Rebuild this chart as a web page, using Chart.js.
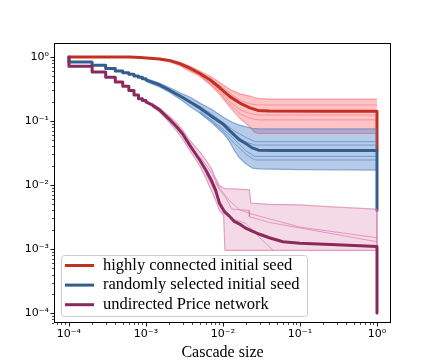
<!DOCTYPE html>
<html><head><meta charset="utf-8">
<script src="https://cdn.jsdelivr.net/npm/chart.js@4/dist/chart.umd.min.js"></script>
<style>html,body{margin:0;padding:0;background:#fff;}</style>
</head><body>
<canvas id="c" width="436" height="363"></canvas>
<script>
// ---------- data ----------
const seriesLabels = ['highly connected initial seed', 'randomly selected initial seed', 'undirected Price network'];
const xTickValues = [1e-4, 1e-3, 1e-2, 1e-1, 1];
const xTickLabels = ['10\u207B\u2074', '10\u207B\u00B3', '10\u207B\u00B2', '10\u207B\u00B9', '10\u2070'];
const yTickValues = [1e-4, 1e-3, 1e-2, 1e-1, 1];
const yTickLabels = ['10\u207B\u2074', '10\u207B\u00B3', '10\u207B\u00B2', '10\u207B\u00B9', '10\u2070'];

// red: highly connected initial seed
const redX = [1e-4, 3e-4, 6e-4, 8.4e-4, 1.5e-3, 2.05e-3, 2.8e-3, 3.7e-3, 5e-3, 6.8e-3, 9.1e-3, 1.23e-2, 1.66e-2, 2.24e-2, 2.85e-2, 4e-2, 0.2, 1.0, 1.0];
const redY = [1.0, 1.0, 0.995, 0.98, 0.93, 0.875, 0.78, 0.67, 0.55, 0.44, 0.33, 0.24, 0.19, 0.16, 0.146, 0.143, 0.142, 0.142, 0.035];
const redBandX = [1.5e-3, 2.05e-3, 2.8e-3, 3.7e-3, 5e-3, 6.8e-3, 9.1e-3, 1.23e-2, 1.66e-2, 2.24e-2, 2.6e-2, 2.85e-2, 4e-2, 1.0];
const redUpper = [0.95, 0.9, 0.82, 0.72, 0.6, 0.5, 0.4, 0.31, 0.265, 0.245, 0.23, 0.225, 0.22, 0.22];
const redLower = [0.9, 0.835, 0.72, 0.6, 0.5, 0.37, 0.26, 0.165, 0.11, 0.08, 0.066, 0.064, 0.064, 0.064];
const redRunX = [5e-3, 9.1e-3, 1.23e-2, 1.66e-2, 2.24e-2, 2.85e-2, 1.0];
const redRun1 = [0.57, 0.36, 0.27, 0.21, 0.185, 0.178, 0.178];
const redRun2 = [0.53, 0.3, 0.2, 0.15, 0.13, 0.124, 0.124];
const redRun3 = [0.52, 0.28, 0.18, 0.13, 0.11, 0.104, 0.104];

// blue: randomly selected initial seed
const blueX = [1e-4, 1e-4, 2e-4, 2e-4, 3e-4, 3e-4, 4e-4, 4e-4, 5e-4, 5e-4, 6e-4, 6e-4, 7e-4, 7e-4, 8e-4, 8e-4, 9e-4, 9e-4, 1e-3, 1e-3,
  1.5e-3, 2e-3, 3e-3, 3.7e-3, 5e-3, 7e-3, 1e-2, 1.23e-2, 1.6e-2, 2e-2, 2.4e-2, 2.9e-2, 5e-2, 1.0, 1.0];
const blueY = [1.0, 0.835, 0.835, 0.742, 0.742, 0.657, 0.657, 0.604, 0.604, 0.565, 0.565, 0.535, 0.535, 0.505, 0.505, 0.48, 0.48, 0.458, 0.458, 0.437,
  0.365, 0.305, 0.233, 0.2, 0.16, 0.12, 0.09, 0.07, 0.052, 0.044, 0.038, 0.035, 0.0345, 0.0345, 0.004];
const blueBandX = [1e-3, 1.5e-3, 2e-3, 3e-3, 3.7e-3, 5e-3, 7e-3, 1e-2, 1.23e-2, 1.4e-2, 1.6e-2, 2e-2, 2.4e-2, 2.9e-2, 0.1, 1.0];
const blueUpper = [0.46, 0.39, 0.333, 0.264, 0.237, 0.19, 0.154, 0.115, 0.1, 0.093, 0.087, 0.081, 0.077, 0.075, 0.075, 0.075];
const blueLower = [0.415, 0.34, 0.284, 0.205, 0.17, 0.133, 0.096, 0.065, 0.047, 0.035, 0.0274, 0.0213, 0.0184, 0.0178, 0.0174, 0.0171];
const blueRunX = [5e-3, 7e-3, 1e-2, 1.4e-2, 2e-2, 2.6e-2, 1.0];
const blueRun1 = [0.17, 0.13, 0.095, 0.07, 0.055, 0.0475, 0.0475];
const blueRun2 = [0.15, 0.115, 0.085, 0.06, 0.047, 0.042, 0.042];
const blueRun3 = [0.14, 0.105, 0.075, 0.052, 0.034, 0.028, 0.028];
const blueRun4 = [0.135, 0.1, 0.07, 0.045, 0.03, 0.0246, 0.0246];

// purple: undirected Price network
const purpleX = [1e-4, 1e-4, 2e-4, 2e-4, 3e-4, 3e-4, 4e-4, 4e-4, 5e-4, 5e-4, 6e-4, 6e-4, 7e-4, 7e-4, 8e-4, 8e-4, 9e-4, 9e-4, 1e-3, 1e-3,
  1.2e-3, 1.5e-3, 2e-3, 2.5e-3, 3e-3, 3.7e-3, 5e-3, 6e-3, 7e-3, 8e-3, 9e-3, 1.05e-2, 1.2e-2, 1.4e-2, 1.7e-2, 2e-2, 2.4e-2, 3e-2, 4e-2, 6e-2, 0.1, 0.3, 1.0, 1.0];
const purpleY = [1.0, 0.716, 0.716, 0.583, 0.583, 0.482, 0.482, 0.407, 0.407, 0.349, 0.349, 0.298, 0.298, 0.255, 0.255, 0.223, 0.223, 0.209, 0.209, 0.198,
  0.178, 0.149, 0.107, 0.081, 0.0625, 0.042, 0.0246, 0.017, 0.0121, 0.0084, 0.0052, 0.0038, 0.0033, 0.0027, 0.0024, 0.0021, 0.0019, 0.0017, 0.0015, 0.0013, 0.00123, 0.00117, 0.0011, 0.0001];
const purpleBandX = [1.2e-3, 1.5e-3, 2e-3, 2.5e-3, 3e-3, 3.7e-3, 5e-3, 6e-3, 7e-3, 8e-3, 9e-3, 1.02e-2, 1.06e-2, 1.4e-2, 2.2e-2, 2.3e-2, 4e-2, 0.1, 0.3, 1.0];
const purpleUpper = [0.19, 0.16, 0.12, 0.093, 0.072, 0.05, 0.033, 0.0246, 0.0184, 0.0129, 0.0097, 0.009, 0.0088, 0.0087, 0.0084, 0.0052, 0.005, 0.0049, 0.0045, 0.0042];
const purpleLower = [0.166, 0.138, 0.096, 0.07, 0.052, 0.035, 0.02, 0.0129, 0.0084, 0.0058, 0.004, 0.0034, 0.00095, 0.00095, 0.00095, 0.00095, 0.00095, 0.00095, 0.00095, 0.00095];
const purpleRun1X = [8e-3, 9e-3, 1.1e-2, 1.3e-2, 2.2e-2, 2.2e-2, 4e-2, 1.0];
const purpleRun1 = [0.011, 0.0085, 0.0062, 0.0042, 0.004, 0.0032, 0.0026, 0.0013];
const purpleRun2X = [5e-3, 7e-3, 9e-3, 1.2e-2, 1.6e-2, 2.2e-2, 0.1, 1.0];
const purpleRun2 = [0.028, 0.016, 0.009, 0.0058, 0.0042, 0.0036, 0.0022, 0.0015];
const purpleRun3X = [6e-3, 8e-3, 1e-2, 1.3e-2, 2e-2, 3e-2, 4.5e-2];
const purpleRun3 = [0.015, 0.0075, 0.0045, 0.003, 0.0025, 0.0015, 0.00095];
const purpleEdgeX = [1.0, 1.0];
const purpleEdge = [0.0042, 0.0011];

// ---------- styles ----------
const mainColors = ['#c3301f', '#345d8c', '#8a2a5c'];
const bandFill = ['rgba(255,100,110,0.38)', 'rgba(70,125,195,0.40)', 'rgba(215,120,165,0.28)'];
const runColor = ['rgba(255,100,110,0.55)', 'rgba(70,125,195,0.60)', 'rgba(210,110,160,0.60)'];

const pts = (xs, ys) => xs.map((x, i) => ({x: x, y: ys[i]}));
const datasets = [];
function addBand(xs, lo, hi, s) {
  datasets.push({data: pts(xs, lo), borderColor: runColor[s], borderWidth: 1.2, fill: false});
  datasets.push({data: pts(xs, hi), borderColor: runColor[s], borderWidth: 1.2, fill: '-1', backgroundColor: bandFill[s]});
}
function addRun(xs, ys, s) {
  datasets.push({data: pts(xs, ys), borderColor: runColor[s], borderWidth: 1, fill: false});
}
function addMain(xs, ys, s) {
  datasets.push({label: seriesLabels[s], main: true, data: pts(xs, ys), borderColor: mainColors[s], borderWidth: 3, fill: false});
}
addBand(redBandX, redLower, redUpper, 0);
addRun(redRunX, redRun1, 0); addRun(redRunX, redRun2, 0); addRun(redRunX, redRun3, 0);
addMain(redX, redY, 0);
addBand(blueBandX, blueLower, blueUpper, 1);
addRun(blueRunX, blueRun1, 1); addRun(blueRunX, blueRun2, 1); addRun(blueRunX, blueRun3, 1); addRun(blueRunX, blueRun4, 1);
addMain(blueX, blueY, 1);
addBand(purpleBandX, purpleLower, purpleUpper, 2);
addRun(purpleRun1X, purpleRun1, 2); addRun(purpleRun2X, purpleRun2, 2); addRun(purpleRun3X, purpleRun3, 2); addRun(purpleEdgeX, purpleEdge, 2);
addMain(purpleX, purpleY, 2);
datasets.forEach((d, i) => { d.order = -i; d.pointRadius = 0; d.tension = 0; d.borderJoinStyle = 'round'; });

// ---------- plugins ----------
const axisDecor = {
  id: 'axisDecor',
  afterDatasetsDraw(chart) {
    const {ctx, chartArea: a, scales} = chart;
    ctx.save();
    ctx.strokeStyle = '#000';
    ctx.lineWidth = 1;
    ctx.strokeRect(Math.round(a.left) + 0.5, Math.round(a.top) + 0.5, Math.round(a.right - a.left) - 1, Math.round(a.bottom - a.top) - 1);
    const drawTicks = (scale, horizontal) => {
      for (let e = -6; e <= 1; e++) {
        for (let m = 1; m <= 9; m++) {
          const v = m * Math.pow(10, e);
          if (v < scale.min || v > scale.max) continue;
          const p = Math.round(scale.getPixelForValue(v)) + 0.5;
          const len = m === 1 ? 3.5 : 2;
          ctx.lineWidth = m === 1 ? 0.9 : 0.7;
          ctx.beginPath();
          if (horizontal) { ctx.moveTo(p, a.bottom); ctx.lineTo(p, a.bottom + len); }
          else { ctx.moveTo(a.left, p); ctx.lineTo(a.left - len, p); }
          ctx.stroke();
        }
      }
    };
    drawTicks(scales.x, true);
    drawTicks(scales.y, false);
    ctx.restore();
  },
  afterDraw(chart) {
    const {ctx} = chart;
    const mains = chart.data.datasets.filter(d => d.main);
    ctx.save();
    const bx = 61.5, by = 255.5, bw = 246, bh = 61;
    ctx.beginPath();
    ctx.roundRect(bx, by, bw, bh, 3);
    ctx.fillStyle = 'rgba(255,255,255,0.8)';
    ctx.fill();
    ctx.strokeStyle = '#cccccc';
    ctx.lineWidth = 1;
    ctx.stroke();
    ctx.font = '16.5px "Liberation Serif"';
    ctx.textBaseline = 'middle';
    mains.forEach((d, i) => {
      const yy = 265.5 + i * 19.6;
      ctx.strokeStyle = d.borderColor;
      ctx.lineWidth = 3;
      ctx.beginPath(); ctx.moveTo(65, yy); ctx.lineTo(94, yy); ctx.stroke();
      ctx.fillStyle = '#000';
      ctx.fillText(d.label, 103, yy);
    });
    ctx.restore();
  }
};

const labelFor = (vals, labels) => (value) => {
  const i = vals.findIndex(v => Math.abs(Math.log10(v) - Math.log10(value)) < 1e-6);
  return i >= 0 ? labels[i] : '';
};

new Chart(document.getElementById('c'), {
  type: 'line',
  data: {datasets: datasets},
  options: {
    responsive: false,
    animation: false,
    devicePixelRatio: 1,
    events: [],
    layout: {padding: {top: 43, right: 45, left: 0, bottom: 0}},
    plugins: {legend: {display: false}, tooltip: {enabled: false}},
    scales: {
      x: {
        type: 'logarithmic', min: 6.4e-5, max: 1.52,
        grid: {display: false, drawTicks: false}, border: {display: false},
        afterBuildTicks: s => { s.ticks = xTickValues.map(v => ({value: v, major: true})); },
        afterFit: s => { s.height = 40; },
        ticks: {autoSkip: false, maxRotation: 0, padding: 5, color: '#000', font: {family: 'DejaVu Sans', size: 11}, callback: labelFor(xTickValues, xTickLabels)},
        title: {display: true, text: 'Cascade size', color: '#000', font: {family: 'Liberation Serif', size: 16}, padding: {top: 0, bottom: 0.5}}
      },
      y: {
        type: 'logarithmic', min: 7e-5, max: 1.65,
        grid: {display: false, drawTicks: false}, border: {display: false},
        afterBuildTicks: s => { s.ticks = yTickValues.map(v => ({value: v, major: true})); },
        afterFit: s => { s.width = 54; },
        ticks: {autoSkip: false, padding: 5, color: '#000', font: {family: 'DejaVu Sans', size: 11}, callback: labelFor(yTickValues, yTickLabels)}
      }
    }
  },
  plugins: [axisDecor]
});
</script>
</body></html>
